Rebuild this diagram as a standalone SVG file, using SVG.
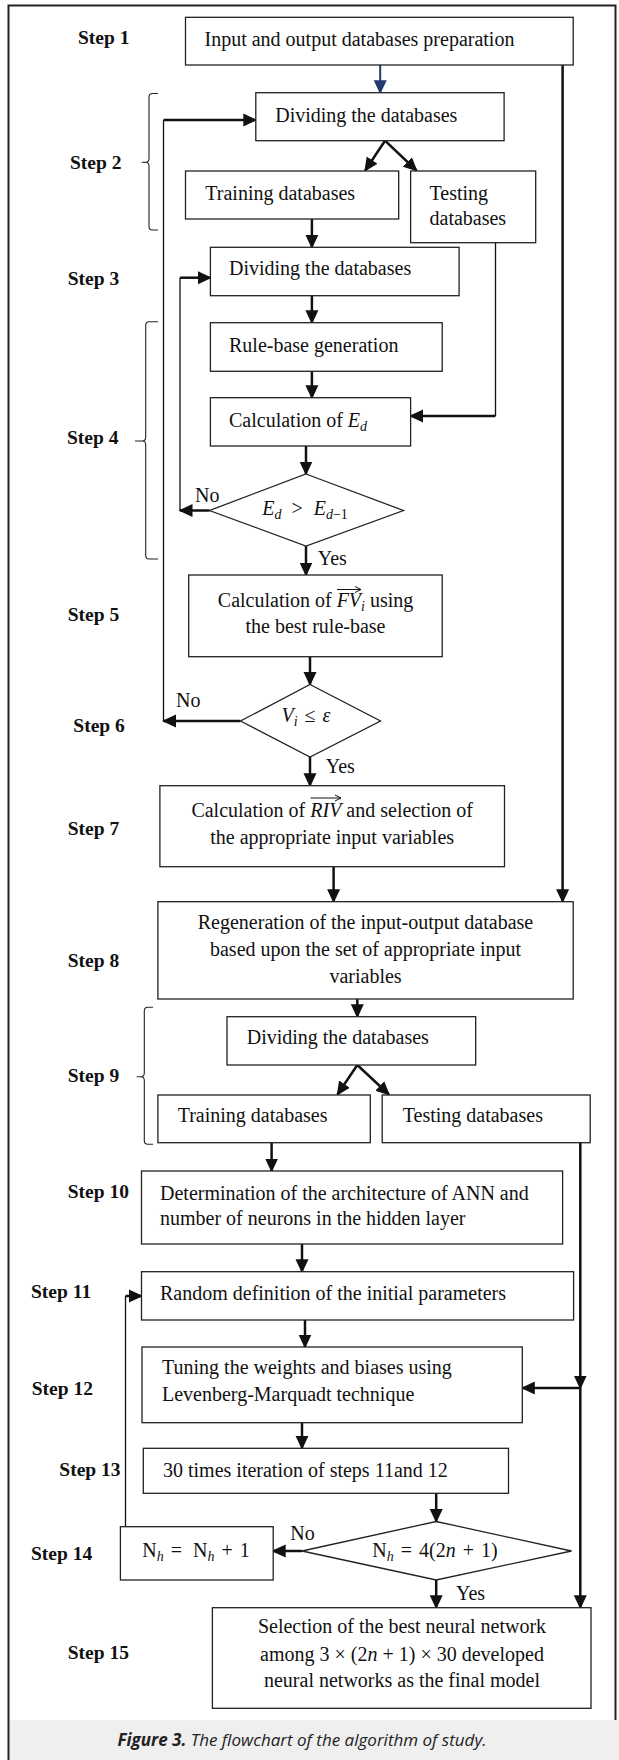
<svg xmlns="http://www.w3.org/2000/svg" width="619" height="1760" viewBox="0 0 619 1760">
<style>
.box{fill:#fff;stroke:#222;stroke-width:1.3}
.t{font-family:"Liberation Serif","Times New Roman",serif;font-size:20px;fill:#111}
.step{font-family:"Liberation Serif","Times New Roman",serif;font-size:19.5px;font-weight:bold;fill:#111}
.m{font-style:italic}
.s{font-size:14px}
.c{text-anchor:middle}
.thick{fill:none;stroke:#111;stroke-width:2.5}
.thin{fill:none;stroke:#111;stroke-width:1.3}
.brace{fill:none;stroke:#222;stroke-width:1.1}
.vec{fill:none;stroke:#111;stroke-width:1}
.cap{font-family:"Open Sans","Noto Sans",sans-serif;font-size:17px;font-style:italic;fill:#222}
</style>
<defs>
<marker id="ah" markerUnits="userSpaceOnUse" markerWidth="14" markerHeight="14" viewBox="0 0 14 14" refX="12.5" refY="7" orient="auto"><path d="M0,0.5 L14,7 L0,13.5 z" fill="#111"/></marker>
<marker id="ahb" markerUnits="userSpaceOnUse" markerWidth="14" markerHeight="14" viewBox="0 0 14 14" refX="12.5" refY="7" orient="auto"><path d="M0,0.5 L14,7 L0,13.5 z" fill="#1f3a6e"/></marker>
<marker id="va" markerUnits="userSpaceOnUse" markerWidth="8" markerHeight="8" viewBox="0 0 8 8" refX="7" refY="4" orient="auto"><path d="M1,1 L7,4 L1,7" fill="none" stroke="#111" stroke-width="1"/></marker>
</defs>
<rect x="0" y="0" width="619" height="1760" fill="#fff"/>
<g id="frame">
<rect x="9.5" y="1720" width="609.5" height="40" fill="#efefef"/>
<path d="M8.5,1760 V5.5 H615.5 V1720" fill="none" stroke="#222" stroke-width="2"/>
<text class="cap" x="302" y="1746" text-anchor="middle"><tspan font-weight="bold">Figure 3.</tspan> The flowchart of the algorithm of study.</text>
</g>
<g id="step-labels">
<text class="step" x="78" y="44">Step 1</text>
<text class="step" x="70" y="169">Step 2</text>
<text class="step" x="67.7" y="285">Step 3</text>
<text class="step" x="67" y="443.5">Step 4</text>
<text class="step" x="67.7" y="621">Step 5</text>
<text class="step" x="73.3" y="731.7">Step 6</text>
<text class="step" x="67.7" y="835">Step 7</text>
<text class="step" x="67.7" y="967.3">Step 8</text>
<text class="step" x="67.7" y="1081.7">Step 9</text>
<text class="step" x="67.7" y="1198.3">Step 10</text>
<text class="step" x="31" y="1298.3">Step 11</text>
<text class="step" x="31.7" y="1395">Step 12</text>
<text class="step" x="59.3" y="1475.7">Step 13</text>
<text class="step" x="31" y="1560">Step 14</text>
<text class="step" x="67.7" y="1659.3">Step 15</text>
</g>
<g id="braces">
<path class="brace" d="M158,93.5 H152.5 Q149,93.5 149,97 V158.5 Q149,162.3 145.5,162.3 H141.7 M145.5,162.3 Q149,162.3 149,166 V226.5 Q149,230 152.5,230 H158"/>
<path class="brace" d="M158,321.7 H149.2 Q145.7,321.7 145.7,325.2 V437.3 Q145.7,441 142.2,441 H135 M142.2,441 Q145.7,441 145.7,444.7 V555.5 Q145.7,559 149.2,559 H158"/>
<path class="brace" d="M153,1007.3 H147.8 Q144.3,1007.3 144.3,1010.8 V1073 Q144.3,1076.7 140.8,1076.7 H136.7 M140.8,1076.7 Q144.3,1076.7 144.3,1080.4 V1140.8 Q144.3,1144.3 147.8,1144.3 H153"/>
</g>
<g id="connectors">
<path d="M380.2,65 V92.7" fill="none" stroke="#1f3a6e" stroke-width="2" marker-end="url(#ahb)"/>
<path class="thick" d="M562.6,65 V901.7" stroke-width="2" marker-end="url(#ah)"/>
<path class="thick" d="M385,140.7 L365.2,170.5" marker-end="url(#ah)"/>
<path class="thick" d="M385,140.7 L416.5,170.5" marker-end="url(#ah)"/>
<path class="thick" d="M311.9,219 V247.3" marker-end="url(#ah)"/>
<path class="thin" d="M495.5,242.7 V416"/>
<path class="thick" d="M495.5,416 H410.6" marker-end="url(#ah)"/>
<path class="thick" d="M311.9,295.7 V322.7" marker-end="url(#ah)"/>
<path class="thick" d="M311.9,371.3 V397.7" marker-end="url(#ah)"/>
<path class="thick" d="M306,446 V474" marker-end="url(#ah)"/>
<path class="thick" d="M209.5,510.5 H180" marker-end="url(#ah)"/>
<path class="thin" d="M180,510.5 V277.7"/>
<path class="thick" d="M180,277.7 H210.4" marker-end="url(#ah)"/>
<path class="thick" d="M306,546 V575" marker-end="url(#ah)"/>
<path class="thick" d="M310,656.7 V684.5" marker-end="url(#ah)"/>
<path class="thick" d="M240.5,721 H163.5" marker-end="url(#ah)"/>
<path class="thin" d="M163.5,721 V120"/>
<path class="thick" d="M163.5,120 H255.8" marker-end="url(#ah)"/>
<path class="thick" d="M310,757 V785.7" marker-end="url(#ah)"/>
<path class="thick" d="M333.6,866.7 V901.7" marker-end="url(#ah)"/>
<path class="thick" d="M357.3,999 V1016.7" marker-end="url(#ah)"/>
<path class="thick" d="M357.3,1065 L337.5,1094.5" marker-end="url(#ah)"/>
<path class="thick" d="M357.3,1065 L388.9,1094.5" marker-end="url(#ah)"/>
<path class="thick" d="M271.6,1142.7 V1171" marker-end="url(#ah)"/>
<path class="thick" d="M580.3,1142.7 V1388" marker-end="url(#ah)"/>
<path class="thick" d="M580.3,1388 H522.3" marker-end="url(#ah)"/>
<path class="thick" d="M580.3,1388 V1607.7" marker-end="url(#ah)"/>
<path class="thick" d="M302,1244 V1271.7" marker-end="url(#ah)"/>
<path class="thick" d="M305,1320 V1347" marker-end="url(#ah)"/>
<path class="thick" d="M302,1422.7 V1448.3" marker-end="url(#ah)"/>
<path class="thick" d="M436.2,1493.3 V1521.5" marker-end="url(#ah)"/>
<path class="thick" d="M302,1551 H273.2" marker-end="url(#ah)"/>
<path class="thin" d="M125.5,1526.7 V1296"/>
<path class="thick" d="M125.5,1296 H141.5" marker-end="url(#ah)"/>
<path class="thick" d="M436.2,1580 V1607.7" marker-end="url(#ah)"/>
<text class="t" x="195" y="501.7">No</text>
<text class="t" x="317.8" y="565">Yes</text>
<text class="t" x="176" y="706.7">No</text>
<text class="t" x="325.7" y="773.3">Yes</text>
<text class="t" x="290.2" y="1540">No</text>
<text class="t" x="456" y="1600">Yes</text>
</g>
<g id="s1">
<rect class="box" x="185.5" y="17.3" width="387.7" height="47.7"/>
<text class="t" x="204.5" y="45.7">Input and output databases preparation</text>
</g>
<g id="s2-divide">
<rect class="box" x="255.8" y="92.7" width="248.3" height="48"/>
<text class="t" x="275.2" y="121.7">Dividing the databases</text>
</g>
<g id="s2-training">
<rect class="box" x="185.5" y="171" width="213.2" height="48"/>
<text class="t" x="205.3" y="200">Training databases</text>
</g>
<g id="s2-testing">
<rect class="box" x="410.6" y="171" width="125.1" height="71.7"/>
<text class="t" x="429.5" y="200">Testing</text>
<text class="t" x="429.5" y="225">databases</text>
</g>
<g id="s3-divide">
<rect class="box" x="210.4" y="247.3" width="248.7" height="48.4"/>
<text class="t" x="229" y="275">Dividing the databases</text>
</g>
<g id="s4-rule">
<rect class="box" x="210.4" y="322.7" width="231.8" height="48.6"/>
<text class="t" x="229" y="351.7">Rule-base generation</text>
</g>
<g id="s4-calc">
<rect class="box" x="210.4" y="397.7" width="200.2" height="48.3"/>
<text class="t" x="229" y="426.7">Calculation of <tspan class="m">E</tspan><tspan class="m s" dy="4">d</tspan></text>
</g>
<g id="s4-decision">
<polygon class="box" points="306,474 403.5,510.5 306,546 209.5,510.5"/>
<text class="t c" x="305" y="515"><tspan class="m">E</tspan><tspan class="m s" dy="4">d</tspan><tspan dy="-4" dx="10">&gt;</tspan><tspan class="m" dx="11">E</tspan><tspan class="s" dy="4"><tspan class="m">d</tspan>−1</tspan></text>
</g>
<g id="s5">
<rect class="box" x="188.7" y="575" width="253.5" height="81.7"/>
<text class="t" x="217.8" y="606.7">Calculation of <tspan class="m">FV</tspan><tspan class="m s" dy="4">i</tspan><tspan dy="-4"> using</tspan></text>
<path class="vec" d="M337,589.5 H361" marker-end="url(#va)"/>
<text class="t c" x="315.5" y="633.3">the best rule-base</text>
</g>
<g id="s6-decision">
<polygon class="box" points="310,684.5 380.5,721 310,757 240.5,721"/>
<text class="t c" x="306" y="722"><tspan class="m">V</tspan><tspan class="m s" dy="4">i</tspan><tspan dy="-4" dx="7">≤</tspan><tspan class="m" dx="7">ε</tspan></text>
</g>
<g id="s7">
<rect class="box" x="159.9" y="785.7" width="344.6" height="81"/>
<text class="t" x="191.4" y="816.5">Calculation of <tspan class="m">RIV</tspan> and selection of</text>
<path class="vec" d="M310.5,798 H341" marker-end="url(#va)"/>
<text class="t c" x="332.2" y="843.5">the appropriate input variables</text>
</g>
<g id="s8">
<rect class="box" x="157.9" y="901.7" width="415.3" height="97.3"/>
<text class="t c" x="365.5" y="928.5">Regeneration of the input-output database</text>
<text class="t c" x="365.5" y="956">based upon the set of appropriate input</text>
<text class="t c" x="365.5" y="982.6">variables</text>
</g>
<g id="s9-divide">
<rect class="box" x="227" y="1016.7" width="248.7" height="48.3"/>
<text class="t" x="246.7" y="1044">Dividing the databases</text>
</g>
<g id="s9-training">
<rect class="box" x="157.9" y="1095" width="212.4" height="47.7"/>
<text class="t" x="177.7" y="1122">Training databases</text>
</g>
<g id="s9-testing">
<rect class="box" x="382.2" y="1095" width="208" height="47.7"/>
<text class="t" x="402.7" y="1122">Testing databases</text>
</g>
<g id="s10">
<rect class="box" x="141.5" y="1171" width="421.1" height="73"/>
<text class="t" x="160" y="1200">Determination of the architecture of ANN and</text>
<text class="t" x="160" y="1225">number of neurons in the hidden layer</text>
</g>
<g id="s11">
<rect class="box" x="141.5" y="1271.7" width="432.1" height="48.3"/>
<text class="t" x="160" y="1300">Random definition of the initial parameters</text>
</g>
<g id="s12">
<rect class="box" x="142" y="1347" width="380.3" height="75.7"/>
<text class="t" x="162" y="1374">Tuning the weights and biases using</text>
<text class="t" x="162" y="1401">Levenberg-Marquadt technique</text>
</g>
<g id="s13">
<rect class="box" x="143.3" y="1448.3" width="365.2" height="45"/>
<text class="t" x="163" y="1476.7">30 times iteration of steps 11and 12</text>
</g>
<g id="s14-decision">
<polygon class="box" points="436.2,1521.5 571.5,1551 436.2,1580 302,1551"/>
<text class="t c" x="435" y="1556.7">N<tspan class="m s" dy="4">h</tspan><tspan dy="-4" dx="7">=</tspan><tspan dx="7">4(2</tspan><tspan class="m">n</tspan><tspan dx="7">+</tspan><tspan dx="7">1)</tspan></text>
</g>
<g id="s14-box">
<rect class="box" x="120.4" y="1526.7" width="152.8" height="53.3"/>
<text class="t c" x="196" y="1556.7">N<tspan class="m s" dy="4">h</tspan><tspan dy="-4" dx="7">=</tspan><tspan dx="11">N</tspan><tspan class="m s" dy="4">h</tspan><tspan dy="-4" dx="7">+</tspan><tspan dx="7">1</tspan></text>
</g>
<g id="s15">
<rect class="box" x="212.4" y="1607.7" width="378.6" height="100.6"/>
<text class="t c" x="402" y="1633.3">Selection of the best neural network</text>
<text class="t c" x="402" y="1660.5">among 3 × (2<tspan class="m">n</tspan> + 1) × 30 developed</text>
<text class="t c" x="402" y="1687.2">neural networks as the final model</text>
</g>
</svg>
